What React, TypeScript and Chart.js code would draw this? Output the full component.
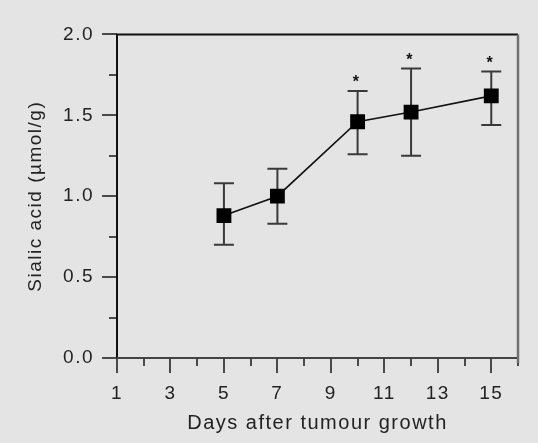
import React, { useEffect, useRef } from "react";
import { Chart, registerables } from "chart.js";

Chart.register(...registerables);

const days = [5, 7, 10, 12, 15];
const sialicAcid = [0.88, 1.0, 1.46, 1.52, 1.62];
const errUpper = [1.08, 1.17, 1.65, 1.79, 1.77];
const errLower = [0.7, 0.83, 1.26, 1.25, 1.44];
const significant = [false, false, true, true, true];
const xTickLabels = [1, 3, 5, 7, 9, 11, 13, 15];
const xMinorTicks = [2, 4, 6, 8, 10, 12, 14, 16];
const yTickLabels = [0, 0.5, 1.0, 1.5, 2.0];
const yMinorTicks = [0.25, 0.75, 1.25, 1.75];
const xTitle = "Days after tumour growth";
const yTitle = "Sialic acid (\u00b5mol/g)";

const FONT = "'Liberation Sans', Arial, Helvetica, sans-serif";

const decorPlugin = {
  id: "decor",
  beforeDraw(chart: any) {
    const ctx = chart.ctx;
    try {
      ctx.letterSpacing = "1.5px";
    } catch (e) {}
  },
  beforeDatasetsDraw(chart: any) {
    const { ctx } = chart;
    const xs = chart.scales.x;
    const ys = chart.scales.y;
    ctx.save();
    ctx.strokeStyle = "#3a3a3a";
    ctx.lineWidth = 2;
    days.forEach((d, i) => {
      const px = xs.getPixelForValue(d);
      const pt = ys.getPixelForValue(errUpper[i]);
      const pb = ys.getPixelForValue(errLower[i]);
      const cap = 10;
      ctx.beginPath();
      ctx.moveTo(px, pt);
      ctx.lineTo(px, pb);
      ctx.moveTo(px - cap, pt);
      ctx.lineTo(px + cap, pt);
      ctx.moveTo(px - cap, pb);
      ctx.lineTo(px + cap, pb);
      ctx.stroke();
      if (significant[i]) {
        ctx.fillStyle = "#111";
        ctx.font = `bold 16px ${FONT}`;
        ctx.textAlign = "center";
        ctx.textBaseline = "middle";
        ctx.fillText("*", px - 1, pt - 8);
      }
    });
    ctx.restore();
  },
  afterDraw(chart: any) {
    const { ctx, chartArea } = chart;
    const { left, right, top, bottom } = chartArea;
    const xs = chart.scales.x;
    const ys = chart.scales.y;
    ctx.save();
    ctx.strokeStyle = "#4a4a4a";
    ctx.lineWidth = 2;
    ctx.beginPath();
    xTickLabels.forEach((v) => {
      const px = Math.round(xs.getPixelForValue(v));
      ctx.moveTo(px, bottom);
      ctx.lineTo(px, bottom + 15);
    });
    xMinorTicks.forEach((v) => {
      const px = Math.round(xs.getPixelForValue(v));
      ctx.moveTo(px, bottom);
      ctx.lineTo(px, bottom + 8);
    });
    yTickLabels.forEach((v) => {
      const py = Math.round(ys.getPixelForValue(v));
      ctx.moveTo(left - 15, py);
      ctx.lineTo(left, py);
    });
    yMinorTicks.forEach((v) => {
      const py = Math.round(ys.getPixelForValue(v));
      ctx.moveTo(left - 8, py);
      ctx.lineTo(left, py);
    });
    ctx.stroke();
    ctx.lineWidth = 2;
    ctx.strokeStyle = "#111";
    ctx.beginPath();
    ctx.moveTo(left, bottom);
    ctx.lineTo(left, top);
    ctx.lineTo(right, top);
    ctx.stroke();
    ctx.strokeStyle = "#444";
    ctx.beginPath();
    ctx.moveTo(left, bottom);
    ctx.lineTo(right, bottom);
    ctx.stroke();
    ctx.strokeStyle = "#707070";
    ctx.lineWidth = 2.5;
    ctx.beginPath();
    ctx.moveTo(right, top);
    ctx.lineTo(right, bottom + 5);
    ctx.stroke();
    ctx.restore();
  },
};

export default function App() {
  const ref = useRef<HTMLCanvasElement>(null);
  useEffect(() => {
    if (!ref.current) return;
    const chart = new Chart(ref.current, {
      type: "line",
      data: {
        datasets: [
          {
            data: days.map((d, i) => ({ x: d, y: sialicAcid[i] })),
            borderColor: "#111",
            borderWidth: 1.6,
            pointStyle: "rect",
            pointRadius: 10.5,
            pointBackgroundColor: "#000",
            pointBorderColor: "#000",
            pointBorderWidth: 0,
            tension: 0,
          },
        ],
      },
      options: {
        responsive: false,
        animation: false,
        layout: { padding: { left: 0, top: 34, right: 20, bottom: 0 } },
        plugins: { legend: { display: false }, tooltip: { enabled: false } },
        scales: {
          x: {
            type: "linear",
            min: 1,
            max: 16,
            afterBuildTicks: (s: any) => {
              s.ticks = xTickLabels.map((v) => ({ value: v }));
            },
            afterFit: (s: any) => {
              s.height = 85;
            },
            grid: { display: false, drawTicks: false },
            border: { display: false },
            ticks: {
              autoSkip: false,
              maxRotation: 0,
              padding: 24,
              color: "#222",
              font: { family: FONT, size: 19 },
              callback: (v: any) => String(v),
            },
            title: {
              display: true,
              text: xTitle,
              color: "#222",
              font: { family: FONT, size: 20 },
              padding: { top: 0, bottom: 8 },
            },
          },
          y: {
            type: "linear",
            min: 0,
            max: 2,
            afterBuildTicks: (s: any) => {
              s.ticks = yTickLabels.map((v) => ({ value: v }));
            },
            afterFit: (s: any) => {
              s.width = 117;
            },
            grid: { display: false, drawTicks: false },
            border: { display: false },
            ticks: {
              padding: 23,
              color: "#222",
              font: { family: FONT, size: 19 },
              callback: (v: any) => Number(v).toFixed(1),
            },
            title: {
              display: true,
              text: yTitle,
              color: "#222",
              font: { family: FONT, size: 19 },
              padding: { top: 24, bottom: 0 },
            },
          },
        },
      },
      plugins: [decorPlugin],
    } as any);
    return () => chart.destroy();
  }, []);
  return (
    <div
      style={{
        position: "fixed",
        left: 0,
        top: 0,
        width: 538,
        height: 443,
        background: "#e4e4e4",
      }}
    >
      <canvas ref={ref} width={538} height={443} style={{ display: "block" }} />
    </div>
  );
}
